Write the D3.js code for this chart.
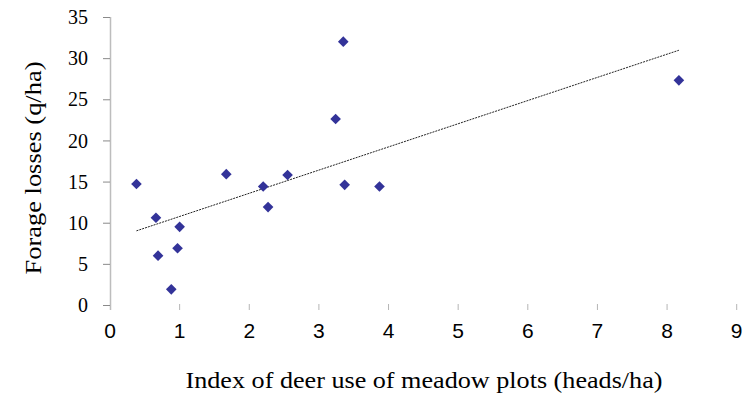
<!DOCTYPE html>
<html>
<head>
<meta charset="utf-8">
<script src="https://cdn.jsdelivr.net/npm/d3@7"></script>
<style>
  body { margin: 0; background: #fff; }
  svg { display: block; }
  .serif { font-family: 'Liberation Serif', 'Times New Roman', Times, 'DejaVu Serif', serif; font-stretch: condensed; }
  .sans { font-family: 'Liberation Sans', Arimo, Arial, Roboto, sans-serif; }
</style>
</head>
<body>
<svg id="chart"></svg>
<script>
// deer use index (heads/ha) vs forage losses (q/ha)
const deerUse = [0.38, 0.66, 0.69, 0.88, 0.97, 1.0, 1.67, 2.20, 2.27, 2.55, 3.24, 3.35, 3.37, 3.87, 8.17]
const forageLoss = [14.7, 10.6, 6.0, 1.9, 6.9, 9.5, 15.9, 14.4, 11.9, 15.8, 22.6, 32.0, 14.6, 14.4, 27.3]
const xTicks = [0, 1, 2, 3, 4, 5, 6, 7, 8, 9]
const yTicks = [0, 5, 10, 15, 20, 25, 30, 35]

const width = 753
const height = 397

const svg = d3.select('#chart')
  .attr('width', width)
  .attr('height', height)

const x = d3.scaleLinear().domain([0, 9]).range([110, 736.7])
const y = d3.scaleLinear().domain([0, 35]).range([305, 17])

const points = deerUse.map((d, i) => ({ x: d, y: forageLoss[i] }))

// least squares trend line
const mx = d3.mean(deerUse)
const my = d3.mean(forageLoss)
const sxy = d3.sum(points, p => (p.x - mx) * (p.y - my))
const sxx = d3.sum(points, p => (p.x - mx) * (p.x - mx))
const slope = sxy / sxx
const intercept = my - slope * mx
const [xMin, xMax] = d3.extent(deerUse)

// y axis
svg.append('line')
  .attr('x1', 110.5).attr('x2', 110.5)
  .attr('y1', y(35)).attr('y2', 310)
  .attr('stroke', '#bdbdbd')
  .attr('stroke-width', 1.5)

svg.selectAll('.y-tick')
  .data(yTicks)
  .enter().append('line')
  .attr('class', 'y-tick')
  .attr('x1', 103).attr('x2', 110)
  .attr('y1', d => y(d) + 0.5).attr('y2', d => y(d) + 0.5)
  .attr('stroke', '#8a8a8a')

svg.selectAll('.y-label')
  .data(yTicks)
  .enter().append('text')
  .attr('class', 'y-label serif')
  .attr('x', 88)
  .attr('y', d => y(d))
  .attr('dy', '0.36em')
  .attr('text-anchor', 'end')
  .style('font-size', '20px')
  .text(d => d)

// x ticks (no axis line)
svg.selectAll('.x-tick')
  .data(xTicks.slice(1))
  .enter().append('line')
  .attr('class', 'x-tick')
  .attr('x1', d => x(d)).attr('x2', d => x(d))
  .attr('y1', 304).attr('y2', 310)
  .attr('stroke', '#b5b5b5')

svg.selectAll('.x-label')
  .data(xTicks)
  .enter().append('text')
  .attr('class', 'x-label sans')
  .attr('x', d => x(d))
  .attr('y', 338)
  .attr('text-anchor', 'middle')
  .style('font-size', '21px')
  .text(d => d)

// trend line
svg.append('line')
  .attr('x1', x(xMin)).attr('y1', y(intercept + slope * xMin))
  .attr('x2', x(xMax)).attr('y2', y(intercept + slope * xMax))
  .attr('stroke', '#222')
  .attr('stroke-width', 1)
  .attr('stroke-dasharray', '2,1')

// points
svg.selectAll('.pt')
  .data(points)
  .enter().append('path')
  .attr('class', 'pt')
  .attr('d', d3.symbol(d3.symbolDiamond2, 72))
  .attr('transform', d => `translate(${x(d.x)},${y(d.y)})`)
  .attr('fill', '#333399')

// titles
svg.append('text')
  .attr('class', 'serif')
  .attr('x', 424)
  .attr('y', 388)
  .attr('text-anchor', 'middle')
  .attr('textLength', 477)
  .attr('lengthAdjust', 'spacingAndGlyphs')
  .style('font-size', '23px')
  .text('Index of deer use of meadow plots (heads/ha)')

svg.append('text')
  .attr('class', 'serif')
  .attr('transform', 'translate(41,168) rotate(-90)')
  .attr('text-anchor', 'middle')
  .attr('textLength', 213)
  .attr('lengthAdjust', 'spacingAndGlyphs')
  .style('font-size', '23px')
  .text('Forage losses (q/ha)')
</script>
</body>
</html>
